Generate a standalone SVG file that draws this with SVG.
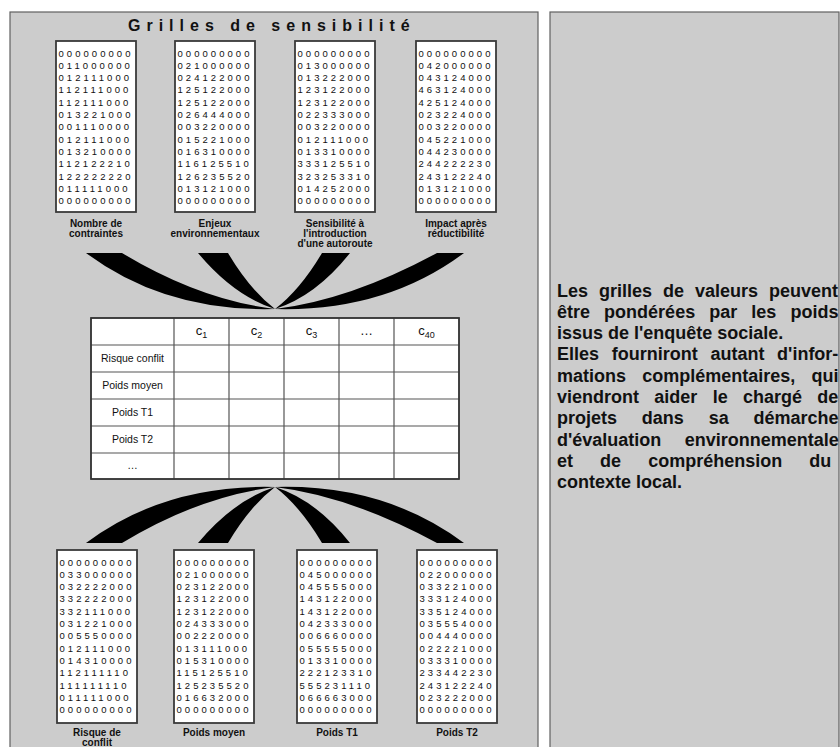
<svg xmlns="http://www.w3.org/2000/svg" width="840" height="747" viewBox="0 0 840 747">
<style>
.panel{fill:#cccccc;stroke:#606060;stroke-width:1.2}
.box{fill:#ffffff;stroke:#3a3a3a;stroke-width:1.8}
.dg{font-family:"Liberation Sans",Arial,sans-serif;font-size:9.5px;letter-spacing:3.05px;fill:#111}
.lbl{font-family:"Liberation Sans",Arial,sans-serif;font-size:10px;font-weight:bold;fill:#111;text-anchor:middle}
.title{font-family:"Liberation Sans",Arial,sans-serif;font-size:16px;font-weight:bold;letter-spacing:6px;fill:#111}
.cell{fill:#ffffff;stroke:#444;stroke-width:1.3}
.tl{stroke:#555;stroke-width:1.2}
.th{font-family:"Liberation Sans",Arial,sans-serif;font-size:13px;fill:#111;text-anchor:middle}
.rl{font-family:"Liberation Sans",Arial,sans-serif;font-size:10.5px;fill:#111;text-anchor:middle}
.body{font-family:"Liberation Sans",Arial,sans-serif;font-size:18px;font-weight:bold;fill:#111}
.sw{fill:#000}
</style>
<rect x="0" y="0" width="840" height="747" fill="#ffffff"/>
<rect id="left-panel" class="panel" x="10" y="12" width="528" height="740"/>
<rect id="right-panel" class="panel" x="550" y="12" width="289" height="740"/>

<g id="title"><text class="title" x="128" y="31">Grilles de sensibilité</text></g>

<g id="grid-nombre">
<rect class="box" x="56" y="41" width="80" height="171"/>
<text class="dg"><tspan x="58.5" y="56.5">000000000</tspan><tspan x="58.5" dy="12.3">011000000</tspan><tspan x="58.5" dy="12.3">012111000</tspan><tspan x="58.5" dy="12.3">112111000</tspan><tspan x="58.5" dy="12.3">112111000</tspan><tspan x="58.5" dy="12.3">013221000</tspan><tspan x="58.5" dy="12.3">001110000</tspan><tspan x="58.5" dy="12.3">012111000</tspan><tspan x="58.5" dy="12.3">013210000</tspan><tspan x="58.5" dy="12.3">112122210</tspan><tspan x="58.5" dy="12.3">122222220</tspan><tspan x="58.5" dy="12.3">011111000</tspan><tspan x="58.5" dy="12.3">000000000</tspan></text>
<text class="lbl"><tspan x="96" y="226.5">Nombre de</tspan><tspan x="96" y="236.5">contraintes</tspan></text>
</g>

<g id="grid-enjeux">
<rect class="box" x="175" y="41" width="80" height="171"/>
<text class="dg"><tspan x="177.5" y="56.5">000000000</tspan><tspan x="177.5" dy="12.3">021000000</tspan><tspan x="177.5" dy="12.3">024122000</tspan><tspan x="177.5" dy="12.3">125122000</tspan><tspan x="177.5" dy="12.3">125122000</tspan><tspan x="177.5" dy="12.3">026444000</tspan><tspan x="177.5" dy="12.3">003220000</tspan><tspan x="177.5" dy="12.3">015221000</tspan><tspan x="177.5" dy="12.3">016310000</tspan><tspan x="177.5" dy="12.3">116125510</tspan><tspan x="177.5" dy="12.3">126235520</tspan><tspan x="177.5" dy="12.3">013121000</tspan><tspan x="177.5" dy="12.3">000000000</tspan></text>
<text class="lbl"><tspan x="215" y="226.5">Enjeux</tspan><tspan x="215" y="236.5">environnementaux</tspan></text>
</g>

<g id="grid-sensibilite">
<rect class="box" x="295" y="41" width="80" height="171"/>
<text class="dg"><tspan x="297.5" y="56.5">000000000</tspan><tspan x="297.5" dy="12.3">013000000</tspan><tspan x="297.5" dy="12.3">013222000</tspan><tspan x="297.5" dy="12.3">123122000</tspan><tspan x="297.5" dy="12.3">123122000</tspan><tspan x="297.5" dy="12.3">022333000</tspan><tspan x="297.5" dy="12.3">003220000</tspan><tspan x="297.5" dy="12.3">012111000</tspan><tspan x="297.5" dy="12.3">013310000</tspan><tspan x="297.5" dy="12.3">333125510</tspan><tspan x="297.5" dy="12.3">323253310</tspan><tspan x="297.5" dy="12.3">014252000</tspan><tspan x="297.5" dy="12.3">000000000</tspan></text>
<text class="lbl"><tspan x="335" y="226.5">Sensibilité à</tspan><tspan x="335" y="236.5">l'introduction</tspan><tspan x="335" y="246.5">d'une autoroute</tspan></text>
</g>

<g id="grid-impact">
<rect class="box" x="416" y="41" width="80" height="171"/>
<text class="dg"><tspan x="418.5" y="56.5">000000000</tspan><tspan x="418.5" dy="12.3">042000000</tspan><tspan x="418.5" dy="12.3">043124000</tspan><tspan x="418.5" dy="12.3">463124000</tspan><tspan x="418.5" dy="12.3">425124000</tspan><tspan x="418.5" dy="12.3">023224000</tspan><tspan x="418.5" dy="12.3">003220000</tspan><tspan x="418.5" dy="12.3">045221000</tspan><tspan x="418.5" dy="12.3">044230000</tspan><tspan x="418.5" dy="12.3">244222230</tspan><tspan x="418.5" dy="12.3">243122240</tspan><tspan x="418.5" dy="12.3">013121000</tspan><tspan x="418.5" dy="12.3">000000000</tspan></text>
<text class="lbl"><tspan x="456" y="226.5">Impact après</tspan><tspan x="456" y="236.5">réductibilité</tspan></text>
</g>

<g id="connectors">
<g id="top-swooshes">
<path id="sw1" class="sw" d="M86,253 L122,253 Q200,300 275,309 Q165,312 86,253 Z"/>
<path id="sw2" class="sw" d="M198,253 L228,253 Q250,290 275,309 Q234,296 198,253 Z"/>
<path id="sw3" class="sw" d="M322,253 L350,253 Q316,296 275,309 Q300,290 322,253 Z"/>
<path id="sw4" class="sw" d="M437,253 L464,253 Q385,312 275,309 Q350,300 437,253 Z"/>
</g>
<g id="bottom-swooshes" transform="matrix(1,0,0,-1,0,796)">
<use href="#sw1"/><use href="#sw2"/><use href="#sw3"/><use href="#sw4"/>
</g>
</g>

<g id="table">
<rect class="cell" x="91" y="318" width="368" height="161"/>
<path class="tl" d="M174,318V479M229,318V479M284,318V479M339,318V479M394,318V479M91,345H459M91,372H459M91,399H459M91,426H459M91,453H459"/>
<rect x="91" y="318" width="368" height="161" fill="none" stroke="#333" stroke-width="1.6"/>
<text class="th" x="201.5" y="335">c<tspan font-size="9" dy="3">1</tspan></text>
<text class="th" x="256.5" y="335">c<tspan font-size="9" dy="3">2</tspan></text>
<text class="th" x="311.5" y="335">c<tspan font-size="9" dy="3">3</tspan></text>
<text class="th" x="366.5" y="335" font-size="9">…</text>
<text class="th" x="426.5" y="335">c<tspan font-size="9" dy="3">40</tspan></text>
<text class="rl" x="132.5" y="362">Risque conflit</text>
<text class="rl" x="132.5" y="389">Poids moyen</text>
<text class="rl" x="132.5" y="416">Poids T1</text>
<text class="rl" x="132.5" y="443">Poids T2</text>
<text class="rl" x="132.5" y="469" font-size="9">…</text>
</g>

<g id="grid-risque">
<rect class="box" x="57" y="550" width="80" height="173"/>
<text class="dg"><tspan x="59.5" y="565.5">000000000</tspan><tspan x="59.5" dy="12.3">033000000</tspan><tspan x="59.5" dy="12.3">032222000</tspan><tspan x="59.5" dy="12.3">332222000</tspan><tspan x="59.5" dy="12.3">332111000</tspan><tspan x="59.5" dy="12.3">031221000</tspan><tspan x="59.5" dy="12.3">005550000</tspan><tspan x="59.5" dy="12.3">012111000</tspan><tspan x="59.5" dy="12.3">014310000</tspan><tspan x="59.5" dy="12.3">112111110</tspan><tspan x="59.5" dy="12.3">111111110</tspan><tspan x="59.5" dy="12.3">011111000</tspan><tspan x="59.5" dy="12.3">000000000</tspan></text>
<text class="lbl"><tspan x="97" y="735.5">Risque de</tspan><tspan x="97" y="745.5">conflit</tspan></text>
</g>

<g id="grid-poids-moyen">
<rect class="box" x="174" y="550" width="80" height="173"/>
<text class="dg"><tspan x="176.5" y="565.5">000000000</tspan><tspan x="176.5" dy="12.3">021000000</tspan><tspan x="176.5" dy="12.3">023122000</tspan><tspan x="176.5" dy="12.3">123122000</tspan><tspan x="176.5" dy="12.3">123122000</tspan><tspan x="176.5" dy="12.3">024333000</tspan><tspan x="176.5" dy="12.3">002220000</tspan><tspan x="176.5" dy="12.3">013111000</tspan><tspan x="176.5" dy="12.3">015310000</tspan><tspan x="176.5" dy="12.3">115125510</tspan><tspan x="176.5" dy="12.3">125235520</tspan><tspan x="176.5" dy="12.3">016632000</tspan><tspan x="176.5" dy="12.3">000000000</tspan></text>
<text class="lbl" x="214" y="736">Poids moyen</text>
</g>

<g id="grid-poids-t1">
<rect class="box" x="297" y="550" width="80" height="173"/>
<text class="dg"><tspan x="299.5" y="565.5">000000000</tspan><tspan x="299.5" dy="12.3">045000000</tspan><tspan x="299.5" dy="12.3">045555000</tspan><tspan x="299.5" dy="12.3">143122000</tspan><tspan x="299.5" dy="12.3">143122000</tspan><tspan x="299.5" dy="12.3">042333000</tspan><tspan x="299.5" dy="12.3">006660000</tspan><tspan x="299.5" dy="12.3">055555000</tspan><tspan x="299.5" dy="12.3">013310000</tspan><tspan x="299.5" dy="12.3">222123310</tspan><tspan x="299.5" dy="12.3">555231110</tspan><tspan x="299.5" dy="12.3">066663000</tspan><tspan x="299.5" dy="12.3">000000000</tspan></text>
<text class="lbl" x="337" y="736">Poids T1</text>
</g>

<g id="grid-poids-t2">
<rect class="box" x="417" y="550" width="80" height="173"/>
<text class="dg"><tspan x="419.5" y="565.5">000000000</tspan><tspan x="419.5" dy="12.3">022000000</tspan><tspan x="419.5" dy="12.3">033221000</tspan><tspan x="419.5" dy="12.3">333124000</tspan><tspan x="419.5" dy="12.3">335124000</tspan><tspan x="419.5" dy="12.3">035554000</tspan><tspan x="419.5" dy="12.3">004440000</tspan><tspan x="419.5" dy="12.3">022221000</tspan><tspan x="419.5" dy="12.3">033310000</tspan><tspan x="419.5" dy="12.3">233442230</tspan><tspan x="419.5" dy="12.3">243122240</tspan><tspan x="419.5" dy="12.3">023222000</tspan><tspan x="419.5" dy="12.3">000000000</tspan></text>
<text class="lbl" x="457" y="736">Poids T2</text>
</g>

<g id="description">
<text class="body" x="557" y="296.5" word-spacing="6">Les grilles de valeurs peuvent</text>
<text class="body" x="557" y="317.8" word-spacing="9.1">être pondérées par les poids</text>
<text class="body" x="557" y="339.1">issus de l'enquête sociale.</text>
<text class="body" x="557" y="360.4" word-spacing="7.7">Elles fourniront autant d'infor-</text>
<text class="body" x="557" y="381.7" word-spacing="11.2">mations complémentaires, qui</text>
<text class="body" x="557" y="403" word-spacing="10.3">viendront aider le chargé de</text>
<text class="body" x="557" y="424.3" word-spacing="19.8">projets dans sa démarche</text>
<text class="body" x="557" y="445.6" word-spacing="18.5">d'évaluation environnementale</text>
<text class="body" x="557" y="466.9" word-spacing="22.1">et de compréhension du</text>
<text class="body" x="557" y="488.2">contexte local.</text>
</g>
</svg>
